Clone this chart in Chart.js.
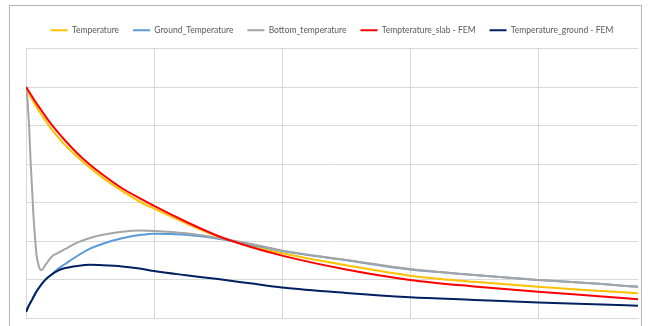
<!DOCTYPE html>
<html>
<head>
<meta charset="utf-8">
<script src="https://cdn.jsdelivr.net/npm/chart.js@4.4.1/dist/chart.umd.min.js"></script>
<style>
  html, body { margin: 0; padding: 0; background: #fff; }
  #wrap { position: relative; width: 648px; height: 326px; overflow: hidden; }
  #frame { position: absolute; left: 9px; top: 5px; width: 633px; height: 360px; border: 1px solid #b4b4b4; box-sizing: border-box; }
  canvas { position: absolute; left: 0; top: 0; }
</style>
</head>
<body>
<div id="wrap">
  <div id="frame"></div>
  <canvas id="chart" width="648" height="326"></canvas>
</div>
<script>
// time axis (no labels in the picture)
const timeSteps = [0, 0.5, 1, 1.5, 2, 3, 4, 5, 6, 8, 10, 12, 15, 18, 20, 25, 30, 35, 40, 50, 60, 70, 80, 90, 95.6];
const timeBottom = [0, 0.23, 0.36, 0.5, 0.73, 1, 1.14, 1.5, 1.67, 2, 2.27, 2.45, 3, 4, 5, 6, 8, 10, 12, 15, 18, 20, 25, 30, 35, 40, 50, 60, 70, 80, 90, 95.6];

const temperature = [60.0, 58.1, 56.6, 55.2, 53.9, 51.4, 49.0, 47.0, 45.1, 41.9, 39.0, 36.4, 33.0, 30.0, 28.4, 24.6, 21.2, 18.7, 16.8, 13.7, 11.0, 9.4, 8.1, 7.0, 6.4];
const groundTemperature = [1.6, 3.4, 4.9, 6.5, 7.8, 9.9, 11.3, 12.8, 13.9, 16.1, 18.0, 19.3, 20.7, 21.6, 21.9, 21.6, 20.6, 19.1, 17.4, 15.0, 12.6, 11.2, 9.9, 8.8, 8.1];
const bottomTemperature = [60.0, 56.7, 53.3, 49.4, 40.3, 32.0, 27.3, 19.0, 16.0, 13.5, 12.5, 12.5, 13.7, 15.9, 16.9, 17.8, 19.6, 20.8, 21.6, 22.4, 22.7, 22.6, 22.0, 20.8, 19.3, 17.5, 15.1, 12.7, 11.2, 9.9, 8.8, 8.1];
const slabFEM = [60.0, 58.7, 57.4, 56.1, 54.9, 52.5, 50.2, 48.2, 46.3, 42.8, 39.8, 37.2, 33.7, 30.9, 29.1, 25.0, 21.3, 18.5, 16.2, 12.6, 9.9, 8.2, 6.8, 5.6, 4.9];
const groundFEM = [1.6, 3.4, 4.9, 6.5, 7.8, 9.9, 11.3, 12.3, 12.9, 13.5, 13.8, 13.7, 13.4, 12.8, 12.2, 11.1, 10.1, 9.0, 7.9, 6.5, 5.4, 4.7, 4.0, 3.5, 3.2];

function pairs(xs, ys) {
    return xs.map((x, i) => ({ x: x, y: ys[i] }));
}

function line(label, xs, ys, color, order) {
    return {
        label: label,
        data: pairs(xs, ys),
        borderColor: color,
        backgroundColor: color,
        borderWidth: 2,
        pointRadius: 0,
        cubicInterpolationMode: 'monotone',
        order: order
    };
}

// push the plot area down below the legend
const legendGap = {
    id: 'legendGap',
    beforeInit(chart) {
        const fit = chart.legend.fit;
        chart.legend.fit = function() {
            fit.bind(chart.legend)();
            this.height += 4;
        };
    }
};

const gridColor = '#d9d9d9';

new Chart(document.getElementById('chart'), {
    type: 'line',
    data: {
        datasets: [
            line('Temperature', timeSteps, temperature, '#FFC000', 5),
            line('Ground_Temperature', timeSteps, groundTemperature, '#5B9BD5', 4),
            line('Bottom_temperature', timeBottom, bottomTemperature, '#A5A5A5', 3),
            line('Tempterature_slab - FEM', timeSteps, slabFEM, '#FF0000', 2),
            line('Temperature_ground - FEM', timeSteps, groundFEM, '#002060', 1)
        ]
    },
    options: {
        responsive: false,
        animation: false,
        layout: { padding: { left: 26, right: 10, top: 12, bottom: 8 } },
        plugins: {
            legend: {
                position: 'top',
                labels: {
                    boxWidth: 17,
                    boxHeight: 2,
                    padding: 14,
                    color: '#595959',
                    font: { family: 'Lato', size: 8.5 },
                    sort: (a, b) => a.datasetIndex - b.datasetIndex,
                    generateLabels(chart) {
                        return Chart.defaults.plugins.legend.labels.generateLabels(chart)
                            .map(l => Object.assign(l, { lineWidth: 0 }));
                    }
                }
            },
            tooltip: { enabled: false }
        },
        scales: {
            x: {
                type: 'linear',
                min: 0,
                max: 95.6,
                ticks: { display: false, stepSize: 20 },
                afterBuildTicks(scale) {
                    scale.ticks = scale.ticks.filter(t => t.value <= 80);
                },
                grid: { color: gridColor, drawTicks: false },
                border: { color: gridColor }
            },
            y: {
                min: 0,
                max: 70,
                ticks: { display: false, stepSize: 10 },
                grid: { color: gridColor, drawTicks: false },
                border: { color: gridColor }
            }
        }
    },
    plugins: [legendGap]
});
</script>
</body>
</html>
